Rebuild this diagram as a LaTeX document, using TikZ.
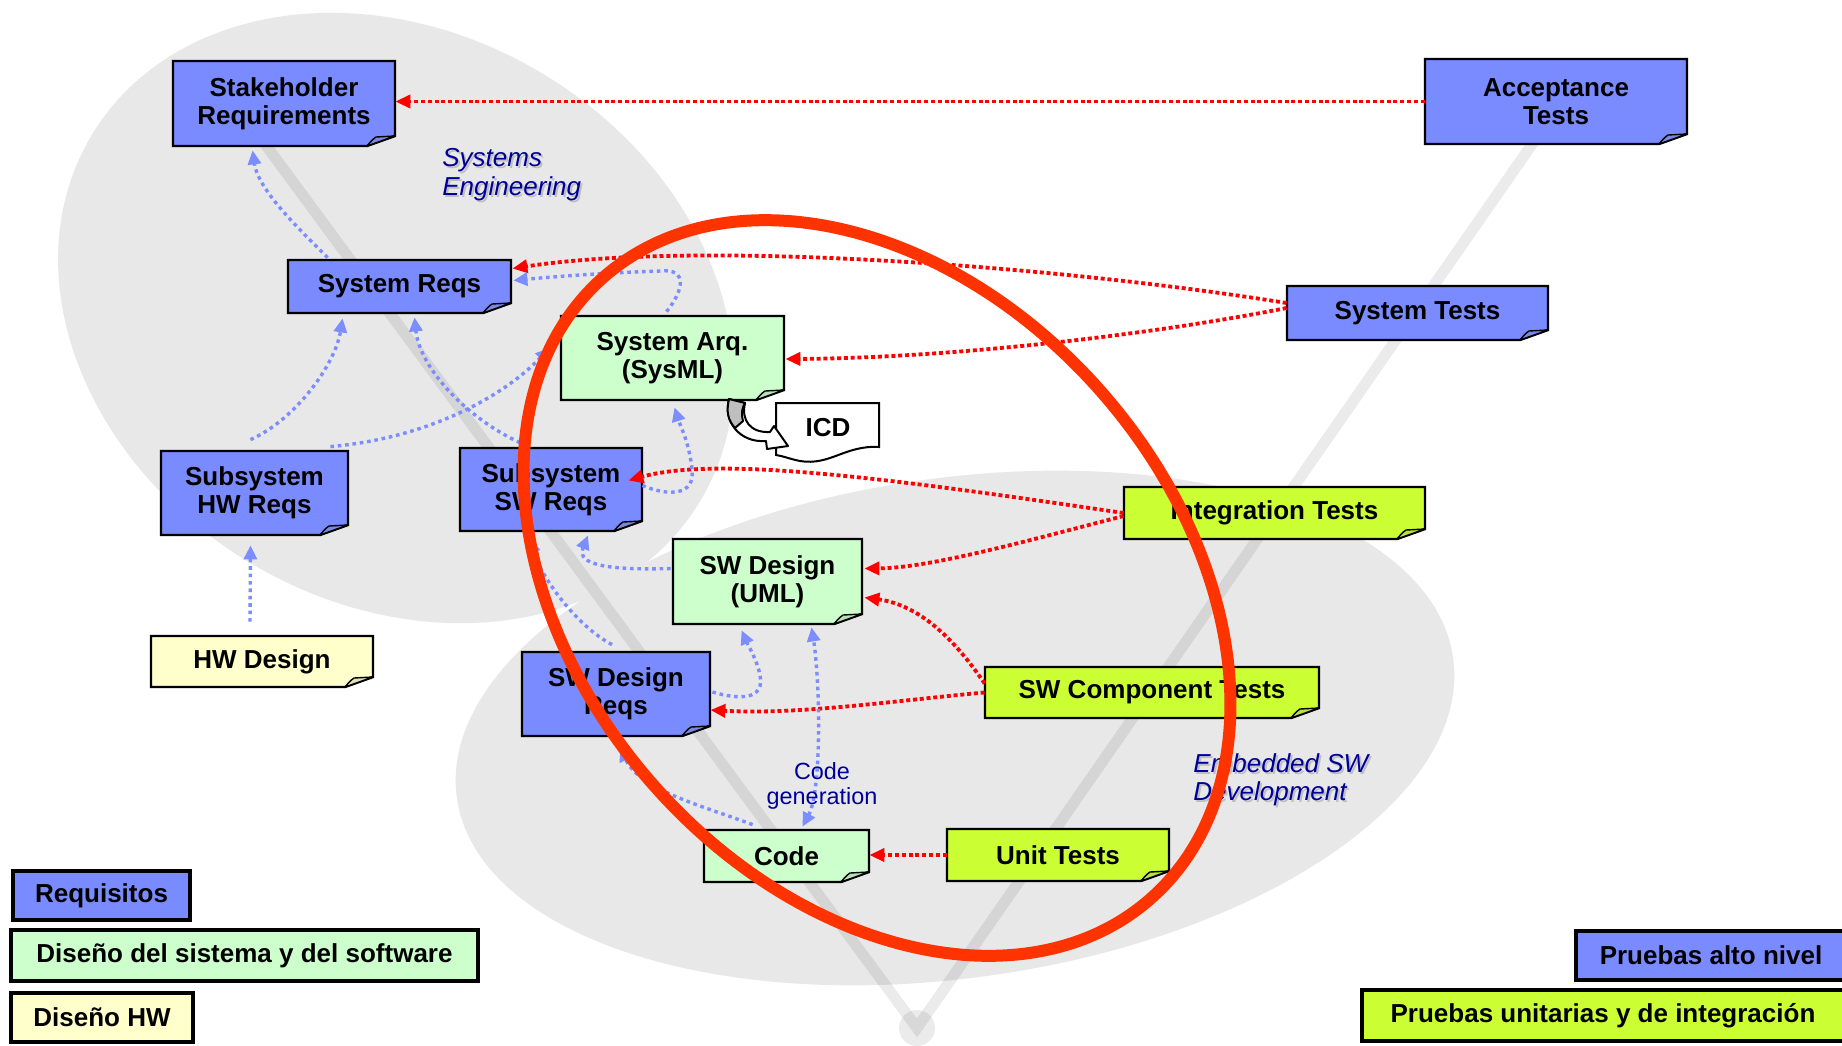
\documentclass[tikz,border=0pt]{standalone}
\usepackage{fontspec}
\setmainfont{Liberation Sans}
\usetikzlibrary{arrows.meta,calc}

\definecolor{reqblue}{RGB}{122,139,255}
\definecolor{desgreen}{RGB}{204,255,204}
\definecolor{testlime}{RGB}{204,255,51}
\definecolor{hwyellow}{RGB}{255,255,204}
\definecolor{traceblue}{RGB}{124,141,255}
\definecolor{testred}{RGB}{255,0,0}
\definecolor{ringred}{RGB}{255,51,0}
\definecolor{areagray}{RGB}{232,232,232}
\definecolor{labelnavy}{RGB}{0,0,153}

\tikzset{
  boxfont/.style={font=\fontsize{13}{14}\selectfont\bfseries},
  notetext/.style={boxfont, align=center, inner sep=0pt, text=black},
  noteframe/.style={draw=black, line width=1.2pt, line join=miter},
  foldframe/.style={draw=black, line width=0.7pt, line join=round},
  legendbox/.style={draw=black, line width=2pt, boxfont, inner sep=0pt, align=center},
  trace/.style={draw=traceblue, line width=1.7pt, dash pattern=on 1.8pt off 1.9pt,
    -{Triangle[length=7pt,width=6.5pt]}},
  tracetwo/.style={draw=traceblue, line width=1.7pt, dash pattern=on 1.8pt off 1.9pt,
    {Triangle[length=7pt,width=6.5pt]}-{Triangle[length=7pt,width=6.5pt]}},
  verify/.style={draw=testred, line width=1.9pt, dash pattern=on 2pt off 1.4pt,
    -{Triangle[length=7.5pt,width=6.5pt]}},
  arealabel/.style={font=\fontsize{13}{14.3}\selectfont\itshape, align=left, inner sep=0pt},
  vband/.style={draw=black, opacity=0.08, line width=5.5pt, line join=miter},
}

% note box with a turned-down corner: name, x1, y1, x2, y2, fill, text
\newcommand\vnote[7]{%
  \filldraw[noteframe, fill=#6] (#2,#3) -- (#4,#3) -- (#4,#5-10) -- (#4-28,#5) -- (#2,#5) -- cycle;
  \filldraw[foldframe, fill=#6!75!gray] (#4,#5-10) -- (#4-19,#5-9) .. controls (#4-23,#5-6) .. (#4-28,#5) -- cycle;
  \node[notetext, minimum width={(#4-#2)*0.5pt}, minimum height={(#5-#3)*0.5pt}] (#1)
    at ({(#2+#4)/2},{(#3+#5)/2}) {#7};
}

\begin{document}
\begin{tikzpicture}[x=0.5pt,y=-0.5pt]
\useasboundingbox (0,0) rectangle (1842,1045);
\fill[white] (0,0) rectangle (1842,1045);

% shaded areas
\fill[areagray, rotate around={-31:(396,318)}] (396,318) ellipse [x radius=355, y radius=285];
\fill[areagray, rotate around={8:(955,728)}] (955,728) ellipse [x radius=503, y radius=250];

% the V
\draw[vband] (262,140) -- (917,1028) -- (1535,140);
\fill[black, opacity=0.08] (917,1028) circle [radius=18];

% area labels
\node[arealabel, text=black!25, anchor=north west] (seshade) at (444,150) {Systems\\Engineering};
\node[arealabel, text=labelnavy, anchor=north west] (selabel) at (442,148) {Systems\\Engineering};
\node[arealabel, text=black!25, anchor=north west] (eswshade) at (1195,755) {Embedded SW\\Development};
\node[arealabel, text=labelnavy, anchor=north west] (eswlabel) at (1193,753) {Embedded SW\\Development};

% notes
\vnote{stk}{173}{61}{395}{146}{reqblue}{Stakeholder\\Requirements}
\vnote{acc}{1425}{59}{1687}{144}{reqblue}{Acceptance\\Tests}
\vnote{sreq}{288}{260}{511}{313}{reqblue}{System Reqs}
\vnote{stest}{1287}{286}{1548}{340}{reqblue}{System Tests}
\vnote{sarq}{561}{316}{784}{400}{desgreen}{System Arq.\\(SysML)}
\vnote{sshw}{161}{451}{348}{535}{reqblue}{Subsystem\\HW Reqs}
\vnote{sssw}{460}{448}{642}{531}{reqblue}{Subsystem\\SW Reqs}
\vnote{itest}{1124}{487}{1425}{539}{testlime}{Integration Tests}
\vnote{swd}{673}{539}{862}{624}{desgreen}{SW Design\\(UML)}
\vnote{hwd}{151}{636}{373}{687}{hwyellow}{HW Design}
\vnote{swdr}{522}{652}{710}{736}{reqblue}{SW Design\\Reqs}
\vnote{swct}{985}{667}{1319}{718}{testlime}{SW Component Tests}
\vnote{code}{704}{830}{869}{882}{desgreen}{Code}
\vnote{utest}{947}{829}{1169}{881}{testlime}{Unit Tests}

% interface control document and its curled arrow
\filldraw[draw=black, line width=1pt, fill=white]
  (776,403) -- (879,403) -- (879,447) .. controls (845,445) and (830,466) .. (800,461)
  .. controls (790,459) and (783,456) .. (776,455) -- cycle;
\node[notetext] (icd) at (828,428) {ICD};
\filldraw[draw=black, line width=1pt, fill=white, line join=round]
  (729,399) .. controls (723,422) and (740,443) .. (766,441) -- (767,449) -- (788,446)
  -- (774,426) -- (770,432) .. controls (750,433) and (741,420) .. (745,403) -- cycle;
\filldraw[draw=black, line width=1pt, fill=black!25, line join=round]
  (729,399) .. controls (726,412) and (728,420) .. (735,428) -- (743,421)
  .. controls (741,413) and (742,408) .. (745,403) -- cycle;

% verification links
\draw[verify] (acc.west) -- (acc.west -| stk.east);
\draw[verify] ($(stest.west)+(0,-10)$) .. controls (1050,265) and (700,240) .. ($(sreq.east)+(1,-18)$);
\draw[verify] ($(stest.west)+(0,-5)$) .. controls (1150,335) and (950,358) .. ($(sarq.east)+(1,1)$);
\draw[verify] (itest.west) .. controls (900,480) and (720,455) .. ($(sssw.east)+(-14,-9)$);
\draw[verify] ($(itest.west)+(0,3)$) .. controls (1030,540) and (930,568) .. ($(swd.east)+(2,-13)$);
\draw[verify] ($(swct.west)+(0,-9)$) .. controls (955,640) and (920,605) .. ($(swd.east)+(2,16)$);
\draw[verify] (swct.west) .. controls (900,700) and (800,715) .. ($(swdr.east)+(0,16)$);
\draw[verify] (utest.west) -- (utest.west -| code.east);

% traceability links
\draw[trace] ($(sreq.north west)+(40,-2)$) .. controls (300,230) and (258,190) .. ($(stk.south west)+(80,4)$);
\draw[trace] ($(sshw.north)+(-4,-11)$) .. controls (295,420) and (335,365) .. ($(sreq.south west)+(55,5)$);
\draw[trace] ($(sshw.north east)+(-18,-4)$) .. controls (430,438) and (505,395) .. ($(sarq.west)+(-11,-10)$);
\draw[trace] ($(sssw.north)+(-31,-5)$) .. controls (470,420) and (420,370) .. ($(sreq.south)+(15,4)$);
\draw[trace] ($(sarq.north)+(-6,-4)$) .. controls (684,290) and (688,268) .. (660,271)
  .. controls (600,273) and (550,277) .. ($(sreq.east)+(2,-6)$);
\draw[trace] ($(sssw.east)+(0,-4)$) .. controls (670,497) and (695,495) .. (692,470)
  .. controls (690,445) and (680,425) .. ($(sarq.south)+(2,7)$);
\draw[trace] ($(swd.west)+(-2,-13)$) .. controls (590,571) and (578,560) .. ($(sssw.south)+(37,4)$);
\draw[trace] ($(swdr.north)+(-4,-7)$) .. controls (575,625) and (540,575) .. ($(sssw.south)+(-21,7)$);
\draw[trace] ($(swdr.east)+(2,-2)$) .. controls (740,700) and (765,700) .. (760,675)
  .. controls (757,660) and (748,645) .. ($(swd.south west)+(69,6)$);
\draw[trace] ($(code.north west)+(49,-5)$) .. controls (700,805) and (640,790) .. ($(swdr.south)+(4,11)$);
\draw[tracetwo] ($(code.north)+(16,-3)$) .. controls (822,790) and (820,680) .. ($(swd.south)+(44,3)$);
\draw[trace] ($(hwd.north)+(-12,-14)$) -- ($(sshw.south)+(-4,10)$);

\node[font=\fontsize{11.7}{12.5}\selectfont, text=labelnavy, align=center, inner sep=0pt]
  (cglabel) at (822,786) {Code\\generation};

% legend
\node[legendbox, fill=reqblue, minimum width=88.5pt, minimum height=24.5pt] (lreq) at (101.5,895.5) {Requisitos};
\node[legendbox, fill=desgreen, minimum width=233.5pt, minimum height=25.5pt] (lsys) at (244.5,955.5) {Diseño del sistema y del software};
\node[legendbox, fill=hwyellow, minimum width=91pt, minimum height=24.5pt] (lhw) at (102,1017.5) {Diseño HW};
\node[legendbox, fill=reqblue, minimum width=135pt, minimum height=24.5pt] (lalto) at (1711,955.5) {Pruebas alto nivel};
\node[legendbox, fill=testlime, minimum width=241pt, minimum height=25.5pt] (luni) at (1603,1015.5) {Pruebas unitarias y de integración};

% focus ring
\draw[ringred, line width=6pt, rotate around={-48.6:(877,588)}] (877,588) ellipse [x radius=414, y radius=298];
\end{tikzpicture}
\end{document}
